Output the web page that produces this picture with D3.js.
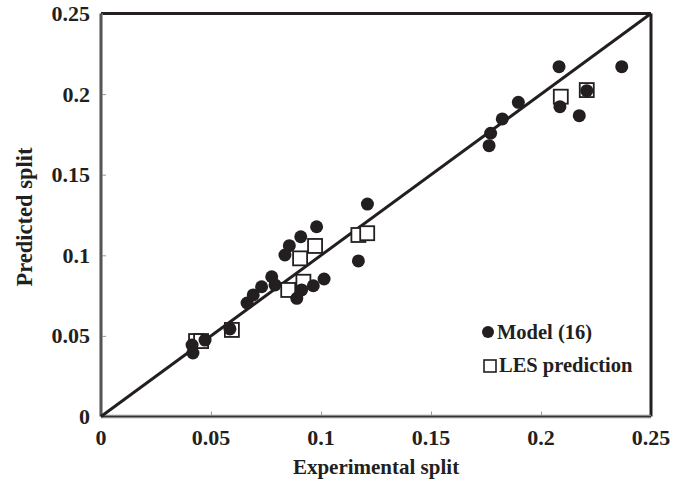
<!DOCTYPE html>
<html><head><meta charset="utf-8">
<script src="https://cdn.jsdelivr.net/npm/d3@7"></script>
<style>body{margin:0;background:#fff}svg text{font-family:"Liberation Serif","Times New Roman",serif;font-weight:bold;fill:#231f20}</style>
</head><body>
<svg id="c" width="691" height="488"></svg>
<script>
const ticks = [0, 0.05, 0.1, 0.15, 0.2, 0.25];
const tickLabels = ["0", "0.05", "0.1", "0.15", "0.2", "0.25"];
const modelX = [0.0418,0.0414,0.0473,0.0586,0.0664,0.0692,0.073,0.0776,0.0791,0.0836,0.0856,0.089,0.0908,0.0912,0.0965,0.098,0.1014,0.117,0.1211,0.1764,0.1771,0.1824,0.1897,0.2082,0.2086,0.2174,0.2208,0.2367];
const modelY = [0.0394,0.0443,0.0474,0.0543,0.0704,0.0754,0.0805,0.0867,0.0816,0.1002,0.106,0.0733,0.1115,0.0785,0.0811,0.1177,0.0853,0.0965,0.1318,0.168,0.1757,0.1846,0.1949,0.217,0.1922,0.1866,0.2021,0.217];
const lesX = [0.0432,0.0455,0.0595,0.0851,0.0905,0.092,0.0973,0.117,0.121,0.209,0.2208];
const lesY = [0.0468,0.0468,0.0537,0.0785,0.0981,0.0836,0.1058,0.1126,0.1137,0.1984,0.2025];
const legendLabels = ["Model (16)", "LES prediction"];

const svg = d3.select("#c");
const x = d3.scaleLinear().domain([0, 0.25]).range([101, 651]);
const y = d3.scaleLinear().domain([0, 0.25]).range([416.5, 13.5]);

const xAxis = d3.axisTop(x).tickValues(ticks.slice(1,5)).tickSize(5).tickFormat("");
const yAxis = d3.axisRight(y).tickValues(ticks.slice(1,5)).tickSize(5).tickFormat("");
const gx = svg.append("g").attr("transform", `translate(0,${y(0)})`).call(xAxis);
const gy = svg.append("g").attr("transform", `translate(${x(0)},0)`).call(yAxis);
[gx, gy].forEach(g => { g.select(".domain").remove(); g.selectAll("line").attr("stroke", "#999").attr("stroke-width", 1); });

svg.append("line").attr("x1", x(0)).attr("x2", x(0.25)).attr("y1", y(0.25)).attr("y2", y(0.25)).attr("stroke", "#231f20").attr("stroke-width", 3);
svg.append("line").attr("x1", x(0.25)).attr("x2", x(0.25)).attr("y1", y(0.25)).attr("y2", y(0)).attr("stroke", "#231f20").attr("stroke-width", 3);
svg.append("line").attr("x1", x(0)).attr("x2", x(0.25)).attr("y1", y(0)).attr("y2", y(0)).attr("stroke", "#888").attr("stroke-width", 3.5);
svg.append("line").attr("x1", x(0)).attr("x2", x(0)).attr("y1", y(0.25)).attr("y2", y(0)).attr("stroke", "#888").attr("stroke-width", 3.5);
svg.append("line").attr("x1", x(0)).attr("x2", x(0.25)).attr("y1", y(0)).attr("y2", y(0)).attr("stroke", "#333").attr("stroke-width", 1.2);
svg.append("line").attr("x1", x(0)).attr("x2", x(0)).attr("y1", y(0.25)).attr("y2", y(0)).attr("stroke", "#333").attr("stroke-width", 1.2);

svg.selectAll(".xl").data(ticks).enter().append("text").attr("x", d => x(d)).attr("y", 445)
  .attr("text-anchor", "middle").attr("font-size", 22).text((d,i) => tickLabels[i]);
svg.selectAll(".yl").data(ticks).enter().append("text").attr("x", 90).attr("y", d => y(d) + 7.5)
  .attr("text-anchor", "end").attr("font-size", 22).text((d,i) => tickLabels[i]);

svg.append("text").attr("x", 376).attr("y", 474).attr("text-anchor", "middle").attr("font-size", 21).text("Experimental split");
svg.append("text").attr("transform", "translate(32,217) rotate(-90)").attr("text-anchor", "middle").attr("font-size", 22.5).text("Predicted split");

svg.append("line").attr("x1", x(0)).attr("y1", y(0)).attr("x2", x(0.25)).attr("y2", y(0.25)).attr("stroke", "#231f20").attr("stroke-width", 3);

const s = 14;
svg.selectAll(".les").data(lesX).enter().append("rect")
  .attr("x", (d,i) => x(d) - s/2).attr("y", (d,i) => y(lesY[i]) - s/2)
  .attr("width", s).attr("height", s).attr("fill", "#fff").attr("stroke", "#231f20").attr("stroke-width", 1.8);
svg.selectAll(".mod").data(modelX).enter().append("circle")
  .attr("cx", d => x(d)).attr("cy", (d,i) => y(modelY[i])).attr("r", 6.5).attr("fill", "#231f20");

svg.append("circle").attr("cx", 488).attr("cy", 332).attr("r", 6).attr("fill", "#231f20");
svg.append("text").attr("x", 497).attr("y", 339).attr("font-size", 20.5).text(legendLabels[0]);
svg.append("rect").attr("x", 484).attr("y", 360).attr("width", 12).attr("height", 12).attr("fill", "#fff").attr("stroke", "#231f20").attr("stroke-width", 1.6);
svg.append("text").attr("x", 499).attr("y", 372).attr("font-size", 20.5).text(legendLabels[1]);
</script>
</body></html>
